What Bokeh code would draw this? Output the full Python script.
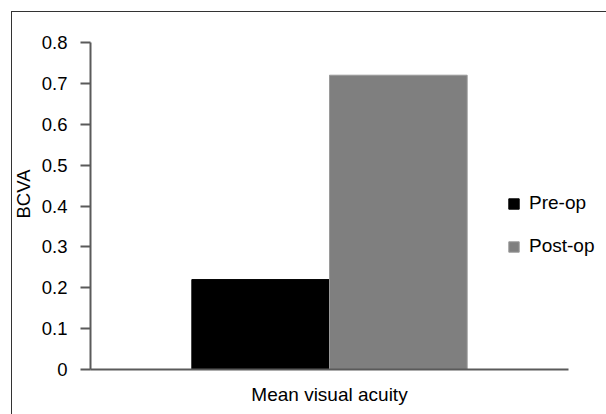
from bokeh.plotting import figure
from bokeh.models import (Range1d, FixedTicker, Legend, LegendItem,
                          Title, ColumnDataSource, InlineStyleSheet)
from bokeh.transform import dodge
from bokeh.embed import file_html
from bokeh.resources import INLINE

categories = ["Mean visual acuity"]
pre_op = [0.22]
post_op = [0.72]
series_names = ["Pre-op", "Post-op"]
y_ticks = [0, 0.1, 0.2, 0.3, 0.4, 0.5, 0.6, 0.7, 0.8]
y_tick_labels = ["0", "0.1", "0.2", "0.3", "0.4", "0.5", "0.6", "0.7", "0.8"]
y_title = "BCVA"

FONT = "Liberation Sans"
FS = "19px"
AXIS_COLOR = "#5a5a5a"

# category slots: category i occupies [i, i+1] on the x scale
cat_x = [i + 0.5 for i in range(len(categories))]
src = ColumnDataSource(dict(x=cat_x, pre=pre_op, post=post_op))

p = figure(width=606, height=414, x_range=Range1d(0, len(categories) * 516 / 478),
           y_range=Range1d(0, 0.8), output_backend="svg", toolbar_location=None,
           min_border_left=90, min_border_right=0, min_border_top=42, min_border_bottom=45)
p.background_fill_color = "white"
p.border_fill_color = "white"
p.outline_line_color = None
p.grid.grid_line_color = None

r1 = p.vbar(x=dodge("x", -0.144), top="pre", width=0.288, source=src,
            fill_color="#000000", line_color="#000000", line_width=1)
r2 = p.vbar(x=dodge("x", 0.144), top="post", width=0.288, source=src,
            fill_color="#7f7f7f", line_color="#9a9a9a", line_width=1)

# y axis
ya = p.yaxis[0]
ya.ticker = FixedTicker(ticks=y_ticks)
ya.major_label_overrides = {t: l for t, l in zip(y_ticks, y_tick_labels)}
ya.minor_tick_line_color = None
ya.major_tick_out = 10
ya.major_tick_in = 0
ya.major_tick_line_color = AXIS_COLOR
ya.major_tick_line_width = 2
ya.axis_line_color = AXIS_COLOR
ya.axis_line_width = 2
ya.major_label_standoff = 13
ya.major_label_text_font = FONT
ya.major_label_text_font_size = "18.5px"
ya.major_label_text_color = "#000000"

# x axis (line limited to the category span)
xa = p.xaxis[0]
xa.ticker = FixedTicker(ticks=cat_x)
xa.major_label_overrides = {x: c for x, c in zip(cat_x, categories)}
xa.bounds = (0, len(categories))
xa.major_tick_line_color = None
xa.minor_tick_line_color = None
xa.major_tick_out = 0
xa.major_tick_in = 0
xa.axis_line_color = AXIS_COLOR
xa.axis_line_width = 2
xa.major_label_standoff = 14
xa.major_label_text_font = FONT
xa.major_label_text_font_size = FS
xa.major_label_text_color = "#000000"

# y title (side panel title, rotated)
p.add_layout(Title(text=y_title, align="left", offset=151, standoff=9,
                   text_font=FONT, text_font_size="18.5px", text_font_style="normal",
                   text_color="#000000"), "left")

legend = Legend(items=[LegendItem(label=series_names[0], renderers=[r1]),
                       LegendItem(label=series_names[1], renderers=[r2])],
                location=(417, 112), orientation="vertical",
                glyph_width=13, glyph_height=13, label_standoff=9, spacing=21,
                padding=0, margin=0,
                border_line_color=None, background_fill_color=None,
                label_text_font=FONT, label_text_font_size=FS, label_text_color="#000000")
p.add_layout(legend, "center")

p.stylesheets = [InlineStyleSheet(css="""
:host { position: relative; }
:host::after { content: ''; position: absolute; left: 11px; top: 11px; right: 0px; bottom: 0px;
  border-left: 1px solid #333333; border-top: 1px solid #333333;
  border-right: none; border-bottom: none; pointer-events: none; }
""")]

open("out.html", "w").write(file_html(p, INLINE))
